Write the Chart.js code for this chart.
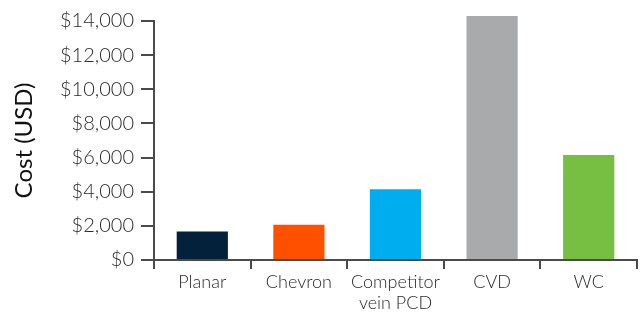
<!DOCTYPE html>
<html>
<head>
<meta charset="utf-8">
<script src="https://cdn.jsdelivr.net/npm/chart.js@4"></script>
<style>
  html, body { margin: 0; padding: 0; background: #fff; }
  #wrap { width: 640px; height: 320px; position: relative; }
</style>
</head>
<body>
<div id="wrap"><canvas id="chart"></canvas></div>
<script>
// Cost per product type (USD)
const categories = ['Planar', 'Chevron', ['Competitor', 'vein PCD'], 'CVD', 'WC'];
const costs = [1670, 2060, 4150, 14300, 6150];
const barColors = ['#03213a', '#ff5000', '#00aeef', '#a9aaac', '#76bf43'];
const yTicks = [0, 2000, 4000, 6000, 8000, 10000, 12000, 14000];

const axisColor = '#4a4a4a';
const textColor = '#2a2a2a';
const fontFamily = 'Lato, "Open Sans", sans-serif';

const ctx = document.getElementById('chart').getContext('2d');

const chart = new Chart(ctx, {
  type: 'bar',
  data: {
    labels: categories,
    datasets: [
      {
        label: 'Cost (USD)',
        data: costs,
        backgroundColor: barColors,
        borderWidth: 0,
        barPercentage: 0.53,
        categoryPercentage: 1.0,
        clip: false,
      },
    ],
  },
  options: {
    responsive: true,
    maintainAspectRatio: false,
    animation: false,
    layout: {
      padding: { top: 21, right: 3, left: 0, bottom: 0 },
    },
    plugins: {
      legend: { display: false },
      tooltip: { enabled: false },
    },
    scales: {
      x: {
        offset: true,
        border: { color: axisColor, width: 2 },
        grid: {
          drawOnChartArea: false,
          tickLength: 9,
          lineWidth: 2,
          color: (c) => (c.index >= categories.length ? 'rgba(0,0,0,0)' : axisColor),
        },
        ticks: {
          color: textColor,
          font: { size: 18, family: fontFamily, weight: 300 },
          maxRotation: 0,
          autoSkip: false,
          padding: 2,
        },
        afterFit: (scale) => { scale.height = 60; },
      },
      y: {
        min: 0,
        max: 14000,
        afterBuildTicks: (scale) => {
          scale.ticks = yTicks.map((v) => ({ value: v }));
        },
        border: { color: axisColor, width: 2 },
        grid: {
          drawOnChartArea: false,
          tickLength: 13,
          lineWidth: 2,
          color: axisColor,
        },
        ticks: {
          color: textColor,
          font: { size: 20, family: fontFamily, weight: 300 },
          padding: 7,
          callback: (v) => '$' + v.toLocaleString('en-US'),
        },
        title: {
          display: true,
          text: 'Cost (USD)',
          color: '#111',
          font: { size: 24, family: fontFamily },
          padding: { top: 10, bottom: 2 },
        },
        afterFit: (scale) => { scale.width = 154; },
      },
    },
  },
});
</script>
</body>
</html>
